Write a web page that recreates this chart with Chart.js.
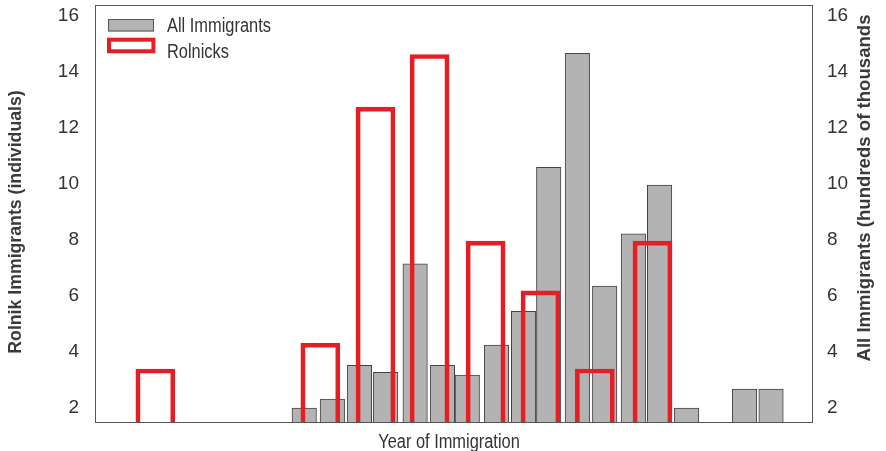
<!DOCTYPE html>
<html>
<head>
<meta charset="utf-8">
<script src="https://cdn.jsdelivr.net/npm/chart.js@4.4.1/dist/chart.umd.min.js"></script>
<style>
  html, body { margin: 0; padding: 0; background: #fff; }
  #wrap { width: 886px; height: 451px; }
</style>
</head>
<body>
<div id="wrap"><canvas id="chart"></canvas></div>
<script>
// --- datos ---
// posición de cada barra en el eje de años (unidad = 1 año)
const allPos = [0, 1.03, 2.02, 2.98, 4.06, 5.06, 5.97, 7.04, 8.03, 8.95, 10.0, 11.0, 12.05, 13.01, 14.0, 16.12, 17.09];
const allValues = [2.0, 2.32, 3.52, 3.27, 7.14, 3.52, 3.17, 4.24, 5.45, 10.58, 14.65, 6.35, 8.21, 9.95, 2.0, 2.67, 2.67];

const rolnikPos = [-5.45, 0.59, 2.61, 4.59, 6.64, 8.65, 10.64, 12.75];
const rolnikValues = [3.39, 4.31, 12.73, 14.61, 7.95, 6.18, 3.39, 7.95];

const yTicks = [2, 4, 6, 8, 10, 12, 14, 16];

const seriesNames = ['All Immigrants', 'Rolnicks'];
const leftTitle = 'Rolnik Immigrants (individuals)';
const rightTitle = 'All Immigrants (hundreds of thousands';
const xTitle = 'Year of Immigration';

// --- estilos ---
const SANS = "'Liberation Sans', Arial, sans-serif";
const GRAY = '#b3b3b3';
const RED = '#e31e24';
const TEXT = '#333333';

const setTicks = scale => { scale.ticks = yTicks.map(v => ({ value: v })); };

// texto estrecho (tipo Arial Narrow) escalando en horizontal
function narrowText(ctx, text, x, y, align) {
    ctx.save();
    ctx.translate(x, y);
    ctx.scale(0.82, 1);
    ctx.textAlign = align;
    ctx.fillText(text, 0, 0);
    ctx.restore();
}

// marco, leyenda y títulos
const decorations = {
    id: 'decorations',
    beforeDatasetsDraw(chart) {
        const { ctx, chartArea: a } = chart;
        ctx.save();
        ctx.strokeStyle = '#555';
        ctx.lineWidth = 1;
        ctx.strokeRect(a.left + 0.5, a.top + 0.5, a.right - a.left, a.bottom - a.top);
        ctx.restore();
    },
    afterDraw(chart) {
        const { ctx, chartArea: a } = chart;
        ctx.save();

        // leyenda
        ctx.fillStyle = GRAY;
        ctx.fillRect(a.left + 13, 19, 46, 12.5);
        ctx.strokeStyle = '#555';
        ctx.lineWidth = 1;
        ctx.strokeRect(a.left + 13.5, 19.5, 45, 11.5);
        ctx.strokeStyle = RED;
        ctx.lineWidth = 4;
        ctx.strokeRect(a.left + 14, 39.7, 44.4, 11.6);

        ctx.fillStyle = TEXT;
        ctx.font = '20px ' + SANS;
        ctx.textBaseline = 'middle';
        narrowText(ctx, seriesNames[0], a.left + 72, 26, 'left');
        narrowText(ctx, seriesNames[1], a.left + 72, 52, 'left');

        // título eje X
        narrowText(ctx, xTitle, 449, 442, 'center');

        // títulos ejes Y
        ctx.fillStyle = '#3a3a3a';
        ctx.textAlign = 'center';
        ctx.save();
        ctx.font = 'bold 17.7px ' + SANS;
        ctx.translate(16, 222);
        ctx.rotate(-Math.PI / 2);
        ctx.fillText(leftTitle, 0, 0);
        ctx.restore();
        ctx.save();
        ctx.font = 'bold 18.6px ' + SANS;
        ctx.translate(865, 188);
        ctx.rotate(-Math.PI / 2);
        ctx.fillText(rightTitle, 0, 0);
        ctx.restore();

        ctx.restore();
    }
};

const fixWidth = w => s => {
    s.width = w;
    s.paddingTop = 0;
    s.paddingBottom = 0;
};

const ctx = document.getElementById('chart').getContext('2d');
new Chart(ctx, {
    type: 'bar',
    data: {
        datasets: [{
            label: seriesNames[1],
            data: rolnikPos.map((x, i) => ({ x: x, y: rolnikValues[i] })),
            yAxisID: 'y',
            backgroundColor: 'rgba(0,0,0,0)',
            borderColor: RED,
            borderWidth: 4,
            borderSkipped: false,
            barThickness: 39,
            order: 0
        }, {
            label: seriesNames[0],
            data: allPos.map((x, i) => ({ x: x, y: allValues[i] })),
            yAxisID: 'y1',
            backgroundColor: GRAY,
            borderColor: '#444',
            borderWidth: 1,
            borderSkipped: false,
            barThickness: 24.5,
            order: 1
        }]
    },
    options: {
        responsive: true,
        maintainAspectRatio: false,
        animation: false,
        devicePixelRatio: 1,
        grouped: false,
        layout: { padding: { top: 5, bottom: 29, left: 0, right: 0 } },
        plugins: {
            legend: { display: false },
            tooltip: { enabled: false }
        },
        scales: {
            x: {
                type: 'linear',
                display: false,
                offset: false,
                min: -7.66,
                max: 18.59
            },
            y: {
                position: 'left',
                min: 1.5,
                max: 16.375,
                afterBuildTicks: setTicks,
                afterFit: fixWidth(95),
                grid: { display: false, drawTicks: false },
                border: { display: false },
                ticks: { padding: 16, color: TEXT, font: { family: SANS, size: 19 } }
            },
            y1: {
                position: 'right',
                min: 1.5,
                max: 16.375,
                afterBuildTicks: setTicks,
                afterFit: fixWidth(74),
                grid: { display: false, drawTicks: false },
                border: { display: false },
                ticks: { padding: 15, color: TEXT, font: { family: SANS, size: 19 } }
            }
        }
    },
    plugins: [decorations]
});
</script>
</body>
</html>
